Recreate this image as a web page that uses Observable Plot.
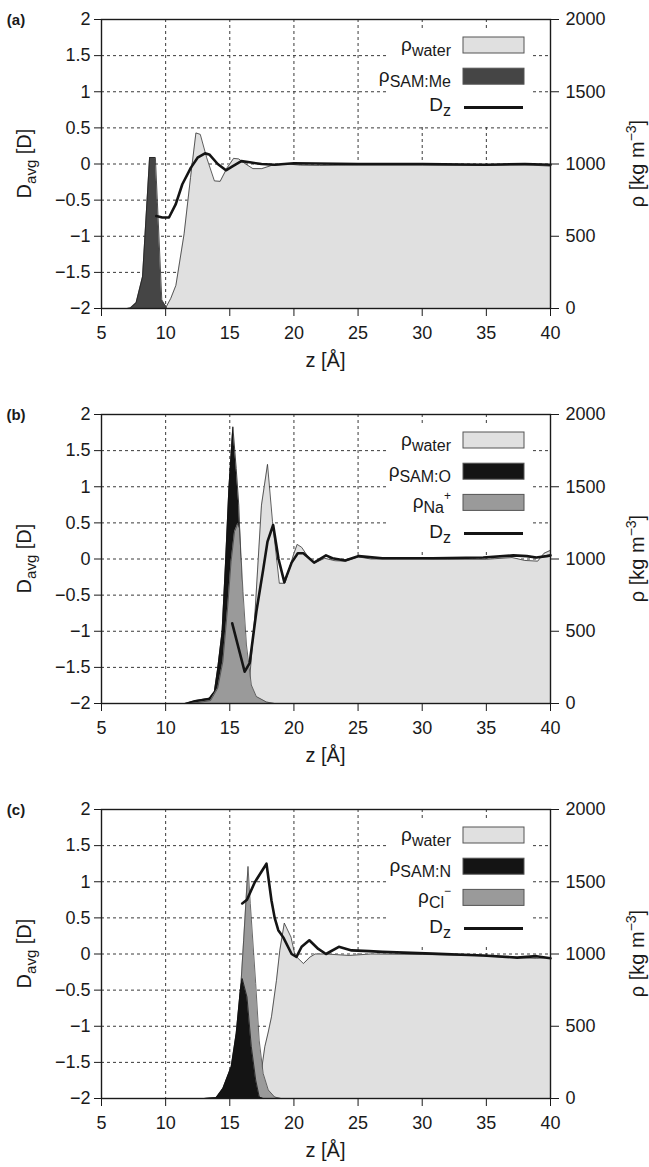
<!DOCTYPE html>
<html><head><meta charset="utf-8">
<script src="https://cdn.jsdelivr.net/npm/d3@7"></script>
<script src="https://cdn.jsdelivr.net/npm/@observablehq/plot@0.6"></script>
<style>
body{margin:0;background:#fff;}
#chart svg{display:block;}
</style></head><body><div id="chart"></div>
<script>
// ---------- axes / ticks ----------
const zTicks = [5, 10, 15, 20, 25, 30, 35, 40];
const zGrid = [10, 15, 20, 25, 30, 35];
const dTicks = [-2, -1.5, -1, -0.5, 0, 0.5, 1, 1.5, 2];
const dGrid = [-1.5, -1, -0.5, 0, 0.5, 1, 1.5];
const rhoTicks = [0, 500, 1000, 1500, 2000];

// ---------- panel (a) ----------
const aWaterZ   = [5, 9.5, 9.75, 10.05, 10.4, 10.8, 11.44, 11.94, 12.36, 12.7, 13.2, 13.8, 14.25, 14.8, 15.3, 15.7, 16.2, 16.8, 17.5, 18.25, 19.5, 20.5, 22, 25, 30, 35, 38, 40];
const aWaterRho = [0, 0, 40, 12, 70, 160, 517, 906, 1215, 1205, 1043, 883, 880, 975, 1039, 1035, 1002, 968, 968, 990, 1000, 992, 990, 992, 992, 990, 995, 985];
const aSamZ     = [5, 7.0, 7.25, 7.7, 8.2, 8.75, 9.2, 9.7, 10.1, 10.5, 40];
const aSamRho   = [0, 0, 4, 40, 220, 1045, 1045, 60, 0, 0, 0];
const aDipZ     = [9.27, 9.74, 10.26, 10.79, 11.3, 11.97, 12.49, 13.07, 13.4, 14.06, 14.7, 15.24, 15.9, 16.55, 17.47, 18.5, 20, 25, 30, 35, 38, 40];
const aDip      = [-0.72, -0.74, -0.74, -0.555, -0.28, -0.05, 0.087, 0.147, 0.133, 0.0, -0.087, -0.028, 0.04, 0.023, 0.0, -0.01, 0.01, 0.0, 0.0, -0.01, 0.0, -0.01];

// ---------- panel (b) ----------
const bWaterZ   = [5, 15.0, 15.5, 16.0, 16.55, 16.94, 17.47, 17.94, 18.33, 18.86, 19.3, 19.96, 20.25, 20.6, 21.1, 21.65, 22.4, 23.2, 24, 25, 26, 28, 30, 32, 35, 37, 38, 39, 39.5, 40];
const bWaterRho = [0, 0, 10, 50, 175, 590, 1373, 1655, 1258, 832, 832, 1028, 1101, 1081, 1016, 974, 1005, 988, 985, 1015, 1000, 1000, 1000, 998, 998, 1010, 990, 985, 1040, 1060];
const bSamZ     = [5, 11.5, 12.3, 13.4, 13.8, 14.06, 14.4, 14.66, 14.93, 15.24, 15.5, 15.7, 16.0, 16.3, 16.7, 17.1, 17.5, 40];
const bSamRho   = [0, 0, 20, 37, 83, 244, 497, 958, 1489, 1915, 1627, 1373, 650, 250, 60, 10, 0, 0];
const bIonZ     = [5, 12.0, 13.5, 14.06, 14.46, 14.85, 15.1, 15.37, 15.63, 15.76, 16.03, 16.3, 16.68, 17.07, 17.86, 18.5, 40];
const bIonRho   = [0, 0, 20, 106, 290, 682, 981, 1189, 1245, 1212, 774, 405, 128, 48, 10, 0, 0];
const bDipZ     = [15.19, 16.16, 16.55, 17.07, 17.6, 17.94, 18.38, 18.8, 19.25, 19.82, 20.3, 20.74, 21.57, 22.5, 23.0, 24.0, 25.06, 26.9, 30.8, 34.75, 37.1, 38.15, 38.9, 39.7, 40];
const bDip      = [-0.89, -1.56, -1.44, -0.73, -0.15, 0.24, 0.47, 0.0, -0.32, -0.05, 0.08, 0.08, -0.05, 0.05, 0.01, -0.02, 0.04, 0.01, 0.01, 0.02, 0.05, 0.04, 0.02, 0.04, 0.05];

// ---------- panel (c) ----------
const cWaterZ   = [5, 16.5, 17.0, 17.4, 17.73, 18.0, 18.25, 18.64, 18.9, 19.25, 19.77, 20.08, 20.74, 21.26, 21.65, 22.5, 24.3, 26, 30, 34, 37.4, 38.9, 40];
const cWaterRho = [0, 0, 30, 150, 358, 460, 565, 818, 1026, 1214, 1117, 991, 934, 979, 1000, 1000, 990, 1000, 997, 990, 975, 970, 975];
const cSamZ     = [5, 13.0, 13.93, 14.46, 15.11, 15.5, 15.82, 15.97, 16.34, 16.68, 17.02, 17.3, 17.6, 40];
const cSamRho   = [0, 0, 5, 70, 220, 450, 750, 830, 703, 358, 128, 10, 0, 0];
const cIonZ     = [5, 13.0, 13.93, 14.46, 14.98, 15.37, 15.76, 16.08, 16.42, 16.6, 17.02, 17.29, 17.6, 18.0, 18.5, 19.0, 40];
const cIonRho   = [0, 0, 5, 35, 128, 289, 634, 1095, 1606, 1348, 796, 404, 174, 59, 10, 0, 0];
const cDipZ     = [15.97, 16.34, 16.94, 17.86, 18.25, 18.5, 18.78, 19.17, 19.82, 20.2, 20.6, 21.2, 21.9, 22.5, 23.5, 24.5, 25.85, 26.9, 30.8, 34.75, 37.4, 38.9, 40];
const cDip      = [0.70, 0.75, 0.99, 1.25, 0.74, 0.5, 0.33, 0.23, 0.0, -0.04, 0.1, 0.19, 0.07, 0.0, 0.1, 0.05, 0.04, 0.03, 0.005, -0.02, -0.05, -0.03, -0.06];

// ---------- styling ----------
const FONT = "'Liberation Sans', Arial, Helvetica, sans-serif";
const C_WATER = "#e0e0e0", C_ME = "#454545", C_BLACK = "#141414", C_ION = "#9a9a9a";

const rows = (zs, vs) => zs.map((z, i) => ({z, v: vs[i]}));
const rhoToD = r => r / 500 - 2;
const fmtD = d => d < 0 ? "\u2212" + Math.abs(d) : String(d);

function legendMark(items) {
  return (index, scales, values, dims) => {
    const g = d3.create("svg:g").attr("font-family", FONT).attr("fill", "#1a1a1a");
    const right = dims.width - dims.marginRight;
    const top = dims.marginTop;
    const boxW = 61, boxH = 16, boxX = right - 26 - boxW;
    const step = 31.2;
    g.append("rect").attr("x", right - 161).attr("y", top + 9)
      .attr("width", 144).attr("height", items.length * step + 3).attr("fill", "#fff");
    items.forEach((it, i) => {
      const cy = top + 26 + i * step;
      if (it.kind === "box") {
        g.append("rect").attr("x", boxX).attr("y", cy - boxH / 2).attr("width", boxW).attr("height", boxH)
          .attr("fill", it.fill).attr("stroke", "#555").attr("stroke-width", 1);
      } else {
        g.append("line").attr("x1", boxX + 1).attr("x2", boxX + boxW - 1).attr("y1", cy).attr("y2", cy)
          .attr("stroke", C_BLACK).attr("stroke-width", 3);
      }
      const t = g.append("text").attr("x", boxX - 12).attr("y", cy + (it.kind === "box" ? 6 : 4)).attr("text-anchor", "end");
      t.append("tspan").attr("font-size", 19).text(it.main);
      t.append("tspan").attr("font-size", 16).attr("dy", 5).text(it.sub);
      if (it.sup) t.append("tspan").attr("font-size", 12).attr("dy", -13).text(it.sup);
    });
    return g.node();
  };
}

function labelsMark(tag) {
  return (index, scales, values, dims) => {
    const g = d3.create("svg:g").attr("font-family", FONT).attr("fill", "#1a1a1a");
    const top = dims.marginTop, bottom = dims.height - dims.marginBottom;
    const cy = (top + bottom) / 2;
    const cx = (dims.marginLeft + dims.width - dims.marginRight) / 2;
    g.append("text").attr("x", 16).attr("y", top + 6).attr("font-weight", "bold").attr("font-size", 15).text(tag);
    const l = g.append("text").attr("transform", `translate(31,${cy}) rotate(-90)`).attr("text-anchor", "middle").attr("font-size", 20);
    l.append("tspan").text("D");
    l.append("tspan").attr("font-size", 15).attr("dy", 5).text("avg");
    l.append("tspan").attr("dy", -5).text(" [D]");
    const r = g.append("text").attr("transform", `translate(644,${cy}) rotate(-90)`).attr("text-anchor", "middle").attr("font-size", 20);
    r.append("tspan").text("\u03c1 [kg m");
    r.append("tspan").attr("font-size", 14).attr("dy", -8).text("\u22123");
    r.append("tspan").attr("dy", 8).text("]");
    g.append("text").attr("x", cx).attr("y", bottom + 59).attr("text-anchor", "middle").attr("font-size", 20).text("z [\u00c5]");
    return g.node();
  };
}

function panel({tag, height, marginBottom, layers, dip, legend}) {
  const gridStyle = {stroke: "#3a3a3a", strokeWidth: 1, strokeDasharray: "3,3"};
  const marks = [
    Plot.ruleX(zGrid, {x: d => d, ...gridStyle}),
    Plot.ruleY(dGrid, {y: d => d, ...gridStyle}),
    legendMark(legend)
  ];
  for (const L of layers) {
    marks.push(Plot.areaY(L.data, {x: "z", y1: -2, y2: d => rhoToD(d.v), fill: L.fill}));
    marks.push(Plot.line(L.data, {x: "z", y: d => rhoToD(d.v), stroke: L.stroke, strokeWidth: L.sw}));
  }
  marks.push(Plot.line(dip, {x: "z", y: "v", stroke: C_BLACK, strokeWidth: 2.6, strokeLinejoin: "round"}));
  marks.push(Plot.frame({stroke: "#1a1a1a", strokeWidth: 1.4}));
  marks.push(Plot.axisX({ticks: zTicks, tickSize: 8, tickPadding: 10, fontSize: 18, label: null, tickFormat: d => String(d)}));
  marks.push(Plot.axisY({anchor: "left", ticks: dTicks, tickSize: 7, tickPadding: 4, fontSize: 18, label: null, tickFormat: fmtD}));
  marks.push(Plot.axisY({anchor: "right", ticks: rhoTicks.map(rhoToD), tickSize: 8, tickPadding: 7, fontSize: 18, label: null,
    tickFormat: d => String(Math.round((d + 2) * 500))}));
  marks.push(labelsMark(tag));
  return Plot.plot({
    width: 649, height, marginLeft: 101, marginRight: 99, marginTop: 19, marginBottom,
    x: {domain: [5, 40]}, y: {domain: [-2, 2]},
    style: {fontFamily: FONT, color: "#1a1a1a", background: "#fff", overflow: "visible"},
    marks
  });
}

const root = document.getElementById("chart");
root.append(panel({
  tag: "(a)", height: 395, marginBottom: 87,
  layers: [
    {data: rows(aWaterZ, aWaterRho), fill: C_WATER, stroke: "#333", sw: 0.8},
    {data: rows(aSamZ, aSamRho), fill: C_ME, stroke: "#222", sw: 0.8}
  ],
  dip: rows(aDipZ, aDip),
  legend: [
    {kind: "box", main: "\u03c1", sub: "water", fill: C_WATER},
    {kind: "box", main: "\u03c1", sub: "SAM:Me", fill: C_ME},
    {kind: "line", main: "D", sub: "z"}
  ]
}));
root.append(panel({
  tag: "(b)", height: 395, marginBottom: 87,
  layers: [
    {data: rows(bWaterZ, bWaterRho), fill: C_WATER, stroke: "#333", sw: 0.8},
    {data: rows(bSamZ, bSamRho), fill: C_BLACK, stroke: "#111", sw: 0.8},
    {data: rows(bIonZ, bIonRho), fill: C_ION, stroke: "#444", sw: 0.8}
  ],
  dip: rows(bDipZ, bDip),
  legend: [
    {kind: "box", main: "\u03c1", sub: "water", fill: C_WATER},
    {kind: "box", main: "\u03c1", sub: "SAM:O", fill: C_BLACK},
    {kind: "box", main: "\u03c1", sub: "Na", sup: "+", fill: C_ION},
    {kind: "line", main: "D", sub: "z"}
  ]
}));
root.append(panel({
  tag: "(c)", height: 377, marginBottom: 69,
  layers: [
    {data: rows(cWaterZ, cWaterRho), fill: C_WATER, stroke: "#333", sw: 0.8},
    {data: rows(cIonZ, cIonRho), fill: C_ION, stroke: "#444", sw: 0.8},
    {data: rows(cSamZ, cSamRho), fill: C_BLACK, stroke: "#111", sw: 0.8}
  ],
  dip: rows(cDipZ, cDip),
  legend: [
    {kind: "box", main: "\u03c1", sub: "water", fill: C_WATER},
    {kind: "box", main: "\u03c1", sub: "SAM:N", fill: C_BLACK},
    {kind: "box", main: "\u03c1", sub: "Cl", sup: "\u2212", fill: C_ION},
    {kind: "line", main: "D", sub: "z"}
  ]
}));
</script></body></html>
